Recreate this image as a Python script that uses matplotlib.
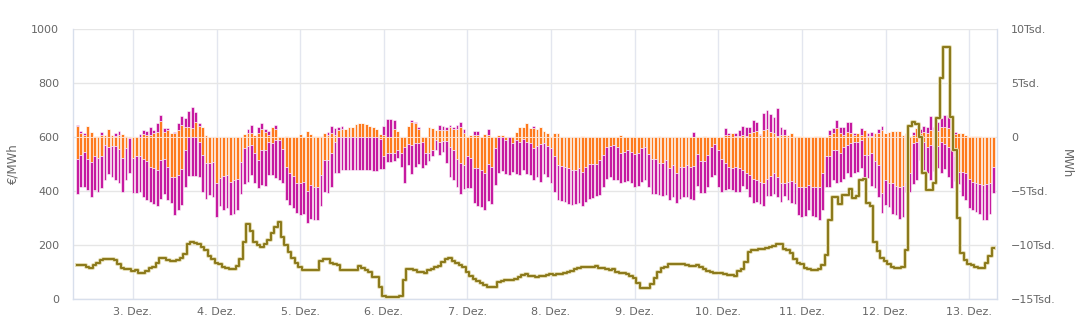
import numpy as np
import pandas as pd
import matplotlib
matplotlib.use("Agg")
import matplotlib.pyplot as plt
import matplotlib.patheffects as pe
from matplotlib.ticker import FuncFormatter

# hourly values from 2. Dez 08:00 to 13. Dez 07:00
# exchange bars in Tsd. MWh, price in EUR/MWh
orange_pos = [
    1.0, 0.4, 0.2, 1.0, 0.45, 0.1, 0.1, 0.2, 0.2, 0.7, 0.2, 0.1, 0.2, 0.3, 0.05, 0,
    0, 0, 0, 0.3, 0.2, 0.2, 0.35, 0.5, 1.5, 0.5, 0.65, 0.35, 0.35, 0.65, 1.1, 0.9,
    0.9, 0.8, 1.4, 1.0, 0.95, 0.2, 0, 0,
    0, 0, 0, 0, 0, 0, 0, 0, 0.3, 0.4, 0.35, 0.2, 0.4, 0.7, 0.5, 0.2,
    0.9, 0.7, 0, 0, 0.05, 0, 0, 0,
    0.3, 0, 0.6, 0.3, 0.05, 0.05, 0.05, 0.35, 0.2, 0.35, 0.2, 0.65, 0.7, 0.7, 0.9, 0.9,
    1.2, 1.3, 1.3, 1.2, 1.0, 0.9, 0.7, 0.3,
    0.2, 0, 0, 0.7, 0.6, 0, 0, 1.0, 1.4, 1.25, 0.7, 0, 0, 0.9, 0.8, 0.65,
    0.65, 0.65, 0.65, 0.9, 0.7, 0.7, 0.9, 0.35,
    0.05, 0.2, 0.2, 0.2, 0, 0.3, 0.2, 0, 0, 0.2, 0.2, 0, 0, 0, 0.5, 0.9,
    0.95, 1.25, 0.8, 0.8, 0.7, 0.95, 0.6, 0.35,
    0.05, 0.4, 0.35, 0, 0, 0, 0, 0, 0, 0.1, 0, 0, 0, 0, 0, 0,
    0, 0, 0, 0, 0.2, 0, 0, 0,
    0, 0, 0, 0, 0, 0, 0, 0.05, 0, 0, 0, 0, 0, 0, 0, 0,
    0, 0, 0, 0, 0.1, 0, 0, 0,
    0, 0, 0.2, 0.2, 0.4, 0.05, 0.1, 0.2, 0.1, 0.35, 0.5, 0.6, 0.2, 0.65, 0.7, 0.5,
    0.35, 0.1, 0.2, 0.2, 0.2, 0.35, 0.05, 0.05,
    0.05, 0, 0, 0, 0.05, 0.05, 0, 0, 0.2, 0.35, 0.8, 0.35, 0.2, 0.5, 0.35, 0.2,
    0.35, 0.2, 0.65, 0.05, 0.1, 0.35, 0.35, 0.65,
    0.35, 0.5, 0.6, 0.6, 0.6, 0.2, 0.35, 0.05, 0.2, 0.8, 0.35, 0.5, 0.35, 0.65, 0.6, 0.6,
    0.9, 0.95, 0.8, 0.65, 0.3, 0.35, 0.35, 0.2,
    0.1, 0.1, 0.05, 0.05, 0, 0, 0, 0,
]
magenta_pos = [
    0.15, 0.2, 0.15, 0, 0, 0, 0, 0.3, 0, 0, 0, 0.25, 0.4, 0, 0, 0,
    0, 0, 0.3, 0.35, 0.4, 0.7, 0.3, 0.75, 0.5, 0.3, 0.15, 0, 0.15, 0.6, 0.85, 0.85,
    1.55, 2.0, 0.95, 0.3, 0, 0, 0, 0,
    0, 0, 0, 0, 0, 0, 0, 0, 0, 0.3, 0.75, 0, 0.5, 0.6, 0.2, 0.4,
    0, 0.4, 0, 0, 0, 0, 0, 0,
    0, 0, 0, 0, 0, 0, 0, 0, 0.3, 0.7, 0.6, 0.25, 0.3, 0, 0, 0,
    0, 0, 0, 0, 0, 0, 0, 0,
    0.85, 1.7, 1.65, 0.85, 0, 0, 0, 0, 0.15, 0.15, 0.2, 0, 0, 0, 0, 0,
    0.45, 0.35, 0.25, 0.2, 0.2, 0.4, 0.45, 0.35,
    0, 0, 0.4, 0.4, 0, 0, 0.5, 0, 0, 0, 0, 0, 0, 0, 0, 0,
    0, 0, 0, 0.2, 0, 0, 0, 0,
    0, 0, 0, 0, 0, 0, 0, 0, 0, 0, 0, 0, 0, 0, 0, 0,
    0, 0, 0, 0, 0, 0, 0, 0,
    0, 0, 0, 0, 0, 0, 0, 0, 0, 0, 0, 0, 0, 0, 0, 0,
    0, 0.45, 0, 0, 0, 0, 0, 0,
    0, 0, 0.6, 0.2, 0, 0.35, 0.55, 0.85, 0.8, 0.6, 1.1, 0.75, 0.1, 1.6, 1.8, 1.65,
    1.5, 2.55, 0.7, 0.5, 0, 0, 0, 0,
    0, 0, 0, 0, 0, 0, 0, 0, 0.45, 0.45, 0.75, 0.55, 0.7, 0.85, 1.0, 0.15,
    0, 0.6, 0, 0.35, 0.4, 0, 0.35, 0.35,
    0, 0, 0, 0, 0, 0, 0, 0, 0.3, 0, 0.35, 0.5, 0.55, 1.25, 0.3, 0.75,
    0.9, 1.1, 1.25, 1.25, 0.2, 0, 0, 0,
    0, 0, 0, 0, 0, 0, 0, 0,
]
orange_neg = [
    -2.0, -1.7, -1.35, -2.0, -2.3, -1.8, -1.9, -1.8, -0.75, -0.9, -0.85, -0.85, -1.15, -1.9, -1.05, -0.1,
    -1.9, -1.8, -1.8, -2.0, -2.2, -2.75, -2.9, -3.1, -2.1, -2.0, -2.75, -3.7, -3.75, -3.5, -3.0, -1.2,
    0, 0, 0, -0.45, -1.65, -2.4, -2.45, -2.3,
    -4.3, -3.8, -3.65, -3.5, -4.15, -4.0, -3.9, -2.3, -1.05, -0.85, -0.75, -1.45, -2.1, -1.2, -1.25, -0.5,
    -0.6, -0.3, -0.3, -1.15, -2.8, -3.35, -3.65, -4.3,
    -4.25, -4.15, -5.0, -4.45, -4.6, -4.6, -3.5, -2.15, -2.15, -1.5, -0.45, 0, 0, 0, 0, 0,
    0, 0, 0, 0, 0, 0, 0, -0.2,
    -1.8, -1.45, -1.45, -1.45, -1.2, -1.5, -0.9, -0.65, -0.75, -0.6, -0.6, -0.5, -1.5, -1.5, -1.2, -0.3,
    -0.5, -0.35, -0.35, -0.9, -1.2, -2.0, -2.45, -2.6,
    -1.8, -1.9, -2.9, -2.9, -3.1, -3.35, -2.5, -2.8, -1.05, 0, 0, -0.3, 0, -0.6, -0.3, -0.45,
    -0.2, -0.45, -0.6, -1.05, -0.85, -0.65, -0.6, -0.85,
    -1.05, -1.75, -2.6, -2.7, -2.75, -2.9, -3.1, -3.05, -2.9, -3.2, -2.8, -2.5, -2.5, -2.5, -2.15, -1.65,
    -0.95, -0.85, -0.75, -0.9, -1.45, -1.35, -1.2, -1.35,
    -1.55, -1.5, -1.05, -0.9, -1.55, -2.05, -2.0, -2.4, -2.45, -2.15, -2.9, -2.6, -3.35, -2.8, -2.75, -2.6,
    -2.8, -2.7, -1.55, -2.2, -2.2, -1.65, -0.9, -0.65,
    -1.2, -2.0, -2.45, -2.8, -2.9, -2.75, -2.9, -3.05, -3.35, -3.5, -3.85, -4.0, -4.15, -4.3, -3.9, -3.65,
    -3.35, -3.75, -4.3, -4.3, -4.15, -4.05, -4.3, -4.65,
    -4.6, -4.6, -4.45, -4.6, -4.6, -4.6, -3.35, -1.8, -1.8, -1.2, -1.2, -1.5, -0.95, -0.75, -0.6, -0.45,
    -0.45, -0.3, -1.65, -1.65, -1.5, -2.2, -2.6, -5.2,
    -4.0, -4.3, -4.25, -4.55, -4.6, -4.55, -4.15, -3.35, -0.6, -0.45, -0.3, -0.45, -0.9, -0.75, -0.85, -0.85,
    -0.5, -0.65, -0.9, -1.05, -1.8, -3.2, -3.2, -3.35,
    -3.9, -4.15, -4.3, -4.35, -4.45, -4.35, -4.3, -2.75,
]
magenta_neg = [
    -3.3, -2.9, -3.25, -2.9, -3.25, -3.1, -3.2, -2.9, -3.25, -2.5, -2.9, -3.1, -3.15, -3.2, -2.95, -3.2,
    -3.3, -3.4, -3.25, -3.55, -3.6, -3.3, -3.3, -3.25, -3.65, -3.3, -3.1, -2.45, -3.45, -3.25, -3.3, -3.4,
    -3.65, -3.65, -3.65, -3.25, -3.4, -3.3, -2.95, -3.25,
    -3.1, -2.6, -3.1, -3.1, -3.1, -3.1, -2.9, -3.0, -3.3, -3.3, -2.8, -2.85, -2.6, -3.25, -3.3, -3.0,
    -2.95, -3.45, -3.65, -3.15, -3.0, -2.95, -2.95, -2.75,
    -3.0, -2.95, -3.0, -3.1, -3.1, -3.1, -2.9, -2.9, -3.0, -3.1, -2.9, -3.35, -3.05, -3.05, -3.05, -3.05,
    -3.1, -3.1, -3.1, -3.1, -3.1, -3.15, -3.15, -2.8,
    -1.2, -0.85, -0.9, -0.75, -0.75, -1.25, -3.4, -1.95, -2.7, -2.15, -1.9, -2.4, -1.1, -0.75, -0.6, -0.9,
    -1.15, -1.0, -2.1, -2.85, -2.8, -2.6, -2.85, -2.25,
    -2.95, -2.85, -3.25, -3.5, -3.35, -3.4, -3.4, -3.4, -3.4, -3.3, -3.15, -3.1, -3.5, -2.6, -3.1, -3.1,
    -2.9, -3.0, -2.95, -2.95, -2.9, -3.5, -2.8, -2.9,
    -3.25, -3.3, -3.25, -3.25, -3.25, -3.3, -3.2, -3.15, -3.25, -3.2, -3.2, -3.25, -3.15, -3.0, -3.2, -2.95,
    -2.95, -2.9, -3.2, -3.1, -2.8, -2.8, -2.85, -2.95,
    -3.05, -3.05, -3.1, -3.1, -3.05, -3.2, -3.3, -3.0, -3.0, -3.25, -2.95, -2.95, -2.8, -2.9, -2.8, -2.95,
    -2.95, -3.1, -2.95, -3.0, -3.0, -2.95, -2.8, -2.9,
    -3.45, -3.1, -2.45, -2.05, -2.0, -2.3, -2.15, -1.5, -1.5, -2.05, -2.3, -2.0, -2.05, -2.1, -1.6, -1.8,
    -1.9, -1.8, -1.7, -1.15, -1.7, -2.1, -1.9, -2.55,
    -2.8, -2.7, -2.3, -2.7, -2.8, -3.1, -3.4, -2.8, -2.8, -2.8, -3.1, -2.7, -2.95, -2.6, -3.15, -2.85,
    -2.8, -2.6, -2.15, -2.15, -3.0, -2.55, -2.95, -1.85,
    -2.3, -2.15, -2.85, -2.7, -2.95, -2.85, -0.9, -1.7, -3.75, -3.55, -1.85, -2.6, -2.45, -3.2, -2.3, -2.0,
    -2.85, -2.35, -2.8, -3.7, -2.3, -1.15, -2.3, -2.45,
    -2.7, -2.6, -2.6, -2.8, -3.25, -3.3, -2.8, -2.45,
]
price = [
    126, 126, 126, 120, 116, 125, 135, 145, 147, 147, 147, 145, 130, 115, 110, 110,
    105, 108, 98, 98, 105, 115, 120, 135, 152, 152, 145, 142, 142, 145, 152, 168,
    205, 212, 208, 204, 194, 180, 160, 150,
    133, 128, 120, 116, 112, 112, 122, 150, 212, 278, 253, 212, 200, 194, 204, 219,
    243, 265, 286, 231, 200, 175, 151, 132,
    117, 107, 107, 107, 107, 107, 142, 147, 147, 132, 130, 126, 107, 107, 107, 107,
    107, 122, 115, 107, 100, 80, 80, 46,
    11, 8, 6, 6, 6, 10, 70, 110, 112, 108, 101, 100, 95, 107, 110, 120,
    122, 138, 150, 152, 140, 132, 126, 120,
    100, 85, 75, 68, 60, 52, 46, 44, 44, 62, 68, 70, 70, 72, 75, 80,
    90, 92, 85, 84, 83, 86, 84, 90,
    93, 90, 92, 92, 95, 100, 105, 110, 115, 118, 120, 118, 119, 122, 116, 116,
    110, 107, 110, 100, 95, 95, 92, 85,
    77, 60, 40, 40, 42, 55, 77, 100, 114, 120, 128, 130, 130, 130, 128, 125,
    122, 122, 125, 120, 110, 105, 100, 98,
    95, 95, 92, 90, 88, 86, 105, 110, 138, 175, 181, 183, 186, 186, 190, 194,
    198, 204, 204, 185, 180, 169, 150, 132,
    128, 114, 110, 108, 108, 110, 126, 163, 293, 377, 377, 352, 385, 385, 406, 373,
    380, 441, 445, 355, 345, 210, 178, 152,
    140, 128, 120, 115, 113, 118, 181, 640, 655, 650, 600, 466, 405, 405, 430, 670,
    818, 935, 935, 674, 552, 300, 170, 145,
    130, 125, 118, 115, 115, 135, 160, 188,
]
day_labels = ["3. Dez.", "4. Dez.", "5. Dez.", "6. Dez.", "7. Dez.", "8. Dez.",
              "9. Dez.", "10. Dez.", "11. Dez.", "12. Dez.", "13. Dez."]

hours = pd.date_range("2022-12-02 08:00", periods=len(price), freq="h")
days = pd.date_range("2022-12-03", periods=len(day_labels), freq="D")

op = np.array(orange_pos) * 1000
mp = np.array(magenta_pos) * 1000
on = np.array(orange_neg) * 1000
mn = np.array(magenta_neg) * 1000

orange = "#fe7a1e"
magenta = "#c61aa0"
grey = "#666666"

fig = plt.figure(figsize=(10.8, 3.33), dpi=100)
ax = fig.add_axes([73 / 1080, 1 - 299 / 333, 924 / 1080, 270 / 333])

# bars: MWh axis (right)
w = 0.8 / 24
kw = dict(width=w, edgecolor="white", linewidth=0.4, zorder=3)
ax.bar(hours, op, color=orange, **kw)
ax.bar(hours, mp, bottom=op, color=magenta, **kw)
ax.bar(hours, on, color=orange, **kw)
ax.bar(hours, mn, bottom=on, color=magenta, **kw)

ax.set_ylim(-15000, 10000)
ax.set_yticks(np.arange(-15000, 10001, 5000))
ax.yaxis.set_major_formatter(FuncFormatter(
    lambda v, p: "0" if v == 0 else f"{v / 1000:g}Tsd.".replace("-", "\u2212")))
ax.set_xlim(hours[0] - pd.Timedelta(hours=1.2), hours[-1] + pd.Timedelta(hours=1.0))
ax.set_xticks(days)
ax.set_xticklabels(day_labels)
ax.grid(axis="y", color="#e6e6e6", linewidth=1, zorder=0)
ax.grid(axis="x", color="#e3e6ef", linewidth=1, zorder=0)
ax.set_axisbelow(True)
ax.spines["top"].set_visible(False)
for s in ["left", "right", "bottom"]:
    ax.spines[s].set_color("#d8dfec")
    ax.spines[s].set_linewidth(1)

# price line: EUR/MWh axis (left)
ax2 = ax.twinx()
ax2.step(hours, price, where="mid", color="#8c7a1c", linewidth=1.5, zorder=5,
         path_effects=[pe.Stroke(linewidth=2.9, foreground="#e6dfb8"), pe.Normal()])
ax2.set_ylim(0, 1000)
ax2.set_yticks(np.arange(0, 1001, 200))
for s in ax2.spines.values():
    s.set_visible(False)

# twinx moves the first axis' ticks to the left, so set sides afterwards
ax.yaxis.tick_right()
ax.yaxis.set_label_position("right")
ax2.yaxis.tick_left()
ax2.yaxis.set_label_position("left")

ax.set_ylabel("MWh", color=grey, fontsize=8.5, rotation=-90)
ax.yaxis.set_label_coords(1.082, 0.5)
ax2.set_ylabel("\u20ac/MWh", color=grey, fontsize=8.5)
ax2.yaxis.set_label_coords(-0.058, 0.5)

ax.tick_params(axis="both", length=0, colors=grey, labelsize=8)
ax.tick_params(axis="y", pad=10)
ax.tick_params(axis="x", pad=6)
ax2.tick_params(axis="y", length=0, colors=grey, labelsize=8, pad=10)

fig.savefig("out.png", dpi=100)
